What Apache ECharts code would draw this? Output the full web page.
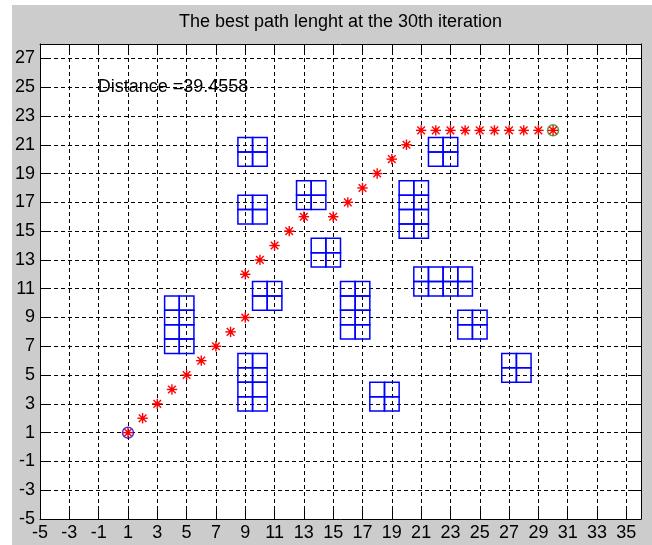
<!DOCTYPE html>
<html>
<head>
<meta charset="utf-8">
<title>Best path</title>
<script src="https://cdn.jsdelivr.net/npm/echarts@6/dist/echarts.min.js"></script>
<style>
  html, body { margin: 0; padding: 0; background: #ffffff; }
  #chart { position: absolute; left: 12px; top: 5px; width: 640px; height: 540px; background: #cccccc; }
</style>
</head>
<body>
<div id="chart"></div>
<script>
// Path nodes visited by the best ant (x, y)
const pathX = [1, 2, 3, 4, 5, 6, 7, 8, 9, 9, 10, 11, 12, 13, 15, 16, 17, 18, 19, 20, 21, 22, 23, 24, 25, 26, 27, 28, 29, 30];
const pathY = [1, 2, 3, 4, 5, 6, 7, 8, 9, 12, 13, 14, 15, 16, 16, 17, 18, 19, 20, 21, 22, 22, 22, 22, 22, 22, 22, 22, 22, 22];

// Obstacle blocks, as ranges of unit cells: [xFirst, xLast, yFirst, yLast]
const obstacles = [
  [9, 10, 20, 21],
  [9, 10, 16, 17],
  [13, 14, 17, 18],
  [14, 15, 13, 14],
  [20, 21, 15, 18],
  [22, 23, 20, 21],
  [21, 24, 11, 12],
  [10, 11, 10, 11],
  [16, 17, 8, 11],
  [24, 25, 8, 9],
  [4, 5, 7, 10],
  [9, 10, 3, 6],
  [18, 19, 3, 4],
  [27, 28, 5, 6]
];

const startPoint = [1, 1];
const goalPoint = [30, 22];

const distanceText = 'Distance =39.4558';
const distanceAnchor = [-1, 25];

const titleText = 'The best path lenght at the 30th iteration';

// Axis ranges and tick labels
const xRange = [-5, 36];
const yRange = [-5, 28];
const xTickLabels = ['-5', '-3', '-1', '1', '3', '5', '7', '9', '11', '13', '15', '17', '19', '21', '23', '25', '27', '29', '31', '33', '35'];
const yTickLabels = ['-5', '-3', '-1', '1', '3', '5', '7', '9', '11', '13', '15', '17', '19', '21', '23', '25', '27'];

// ---------------------------------------------------------------
const FONT = '"Liberation Sans", Arial, Helvetica, sans-serif';

const obstacleCells = [];
obstacles.forEach(function (b) {
  for (let x = b[0]; x <= b[1]; x++) {
    for (let y = b[2]; y <= b[3]; y++) obstacleCells.push([x, y]);
  }
});
const pathData = pathX.map(function (x, i) { return [x, pathY[i]]; });

const chart = echarts.init(document.getElementById('chart'), null, { renderer: 'canvas' });

// tick axes count from 0 with a step of 2; labels come from the lists above
function tickAxis(position, span, labels, withLabels, withGrid) {
  return {
    type: 'value',
    position: position,
    min: 0,
    max: span,
    interval: 2,
    axisLine: { show: true, onZero: false, lineStyle: { color: '#000', width: 1 } },
    axisTick: { show: true, inside: true, length: 9, lineStyle: { color: '#000', width: 1 } },
    axisLabel: {
      show: withLabels,
      color: '#000',
      fontFamily: FONT,
      fontSize: 18,
      margin: 5,
      formatter: function (v) {
        const s = labels[Math.round(v / 2)];
        return (Math.abs(v / 2 - Math.round(v / 2)) < 1e-6 && s !== undefined) ? s : '';
      }
    },
    splitLine: { show: withGrid, lineStyle: { color: '#000', width: 1, type: [4, 3] } },
    z: 3
  };
}

const dataAxis = function (range) {
  return { type: 'value', min: range[0], max: range[1], show: false };
};

function starItem(params, api) {
  const c = api.coord([api.value(0), api.value(1)]);
  const a = 5.2, d = 3.8;
  const st = { stroke: '#ff0000', lineWidth: 1.4 };
  return {
    type: 'group',
    children: [
      { type: 'line', shape: { x1: c[0] - a, y1: c[1], x2: c[0] + a, y2: c[1] }, style: st },
      { type: 'line', shape: { x1: c[0], y1: c[1] - a, x2: c[0], y2: c[1] + a }, style: st },
      { type: 'line', shape: { x1: c[0] - d, y1: c[1] - d, x2: c[0] + d, y2: c[1] + d }, style: st },
      { type: 'line', shape: { x1: c[0] - d, y1: c[1] + d, x2: c[0] + d, y2: c[1] - d }, style: st },
      { type: 'circle', shape: { cx: c[0], cy: c[1], r: 2 }, style: { fill: '#ff0000' } }
    ]
  };
}

function cellItem(params, api) {
  const x = api.value(0), y = api.value(1);
  const p0 = api.coord([x - 0.5, y + 0.5]);
  const p1 = api.coord([x + 0.5, y - 0.5]);
  return {
    type: 'rect',
    shape: { x: p0[0], y: p0[1], width: p1[0] - p0[0], height: p1[1] - p0[1] },
    style: { fill: 'none', stroke: '#0000ff', lineWidth: 1.5 }
  };
}

function textItem(params, api) {
  const c = api.coord([api.value(0), api.value(1)]);
  return {
    type: 'text',
    x: c[0] - 1,
    y: c[1],
    style: {
      text: distanceText,
      fill: '#000',
      font: '18px ' + FONT,
      textAlign: 'left',
      textVerticalAlign: 'middle'
    }
  };
}

const option = {
  animation: false,
  backgroundColor: 'transparent',
  grid: { left: 28, right: 11, top: 39, bottom: 26, show: true, backgroundColor: '#ffffff', borderWidth: 0, containLabel: false },
  graphic: [{
    type: 'text',
    x: 328.5,
    y: 17.5,
    style: { text: titleText, fill: '#000', font: '18px ' + FONT, textAlign: 'center', textVerticalAlign: 'middle' }
  }],
  xAxis: [
    dataAxis(xRange),
    tickAxis('bottom', xRange[1] - xRange[0], xTickLabels, true, true),
    tickAxis('top', xRange[1] - xRange[0], xTickLabels, false, false)
  ],
  yAxis: [
    dataAxis(yRange),
    tickAxis('left', yRange[1] - yRange[0], yTickLabels, true, true),
    tickAxis('right', yRange[1] - yRange[0], yTickLabels, false, false)
  ],
  series: [
    {
      type: 'custom', name: 'obstacles', xAxisIndex: 0, yAxisIndex: 0,
      data: obstacleCells, renderItem: cellItem, encode: { x: 0, y: 1 }, z: 4, silent: true
    },
    {
      type: 'custom', name: 'distance', xAxisIndex: 0, yAxisIndex: 0,
      data: [distanceAnchor], renderItem: textItem, encode: { x: 0, y: 1 }, z: 4, silent: true
    },
    {
      type: 'scatter', name: 'start', xAxisIndex: 0, yAxisIndex: 0,
      data: [startPoint], symbol: 'circle', symbolSize: 11,
      itemStyle: { color: 'rgba(0,0,0,0)', borderColor: '#0000ff', borderWidth: 1.5 }, z: 5, silent: true
    },
    {
      type: 'scatter', name: 'goal', xAxisIndex: 0, yAxisIndex: 0,
      data: [goalPoint], symbol: 'circle', symbolSize: 11,
      itemStyle: { color: 'rgba(0,0,0,0)', borderColor: '#1f8f1f', borderWidth: 1.5 }, z: 5, silent: true
    },
    {
      type: 'custom', name: 'path', xAxisIndex: 0, yAxisIndex: 0,
      data: pathData, renderItem: starItem, encode: { x: 0, y: 1 }, z: 6, silent: true
    }
  ]
};

chart.setOption(option);
</script>
</body>
</html>
